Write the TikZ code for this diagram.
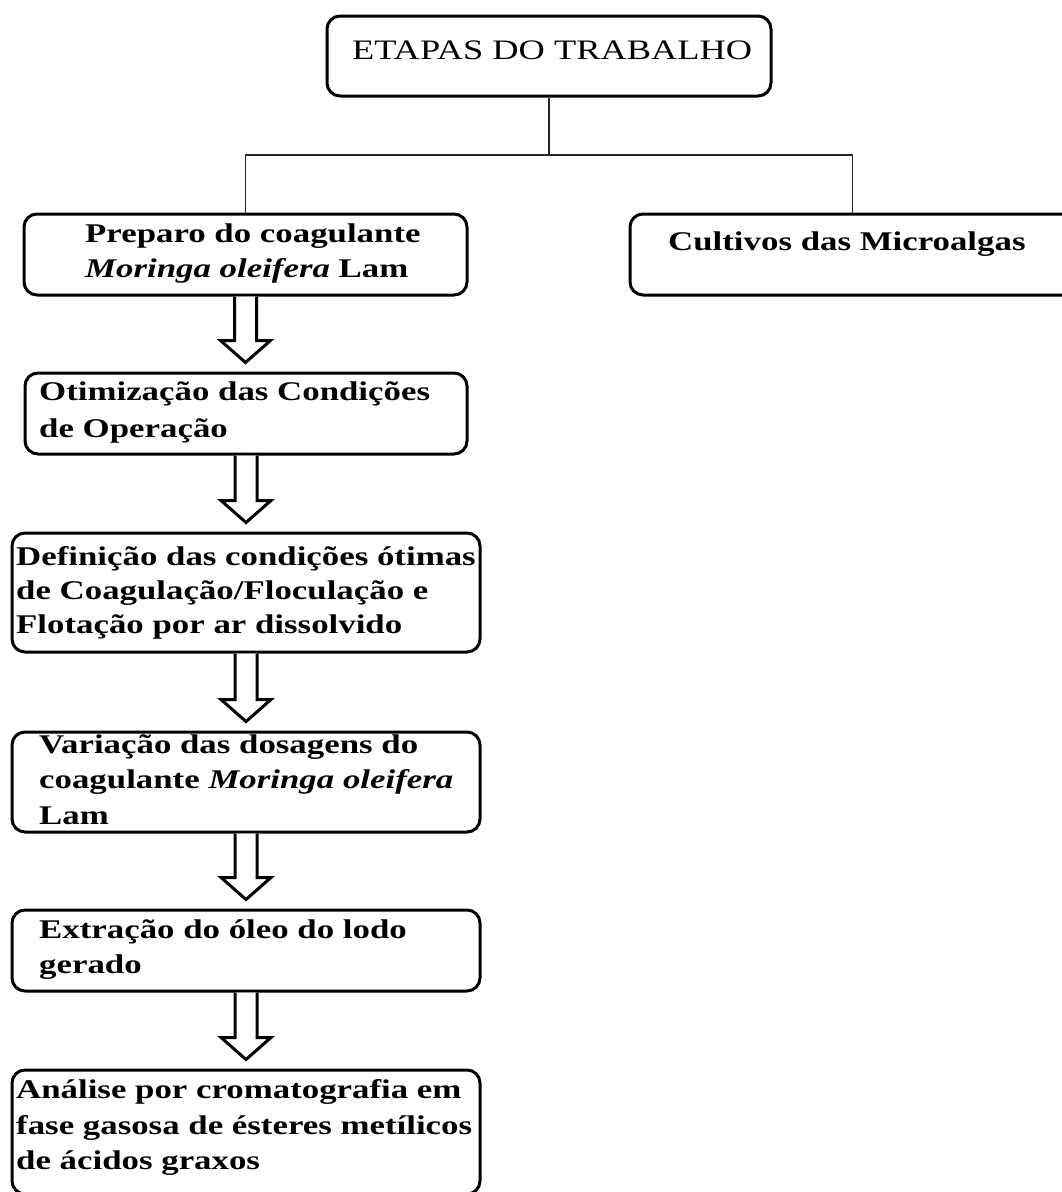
\documentclass[tikz,border=0pt]{standalone}
\usepackage{fontspec}
\setmainfont{Liberation Serif}[FakeStretch=1.29]
\usetikzlibrary{calc}
\begin{document}
\begin{tikzpicture}[x=1pt,y=-1pt,
  box/.style={draw=black,line width=3pt,rounded corners=13pt,minimum width=#1,inner sep=0pt},
  lbl/.style={anchor=base west,inner sep=0pt,font=\fontsize{27}{35.5}\selectfont\bfseries},
  ttl/.style={anchor=base west,inner sep=0pt,font=\fontsize{28.2}{35.5}\selectfont},
  tree/.style={draw=black!85,line width=1.6pt},
  barrow/.style={draw=black,line width=3pt,line join=miter,fill=white}]
\fill[white] (0,0) rectangle (1062,1192);
\useasboundingbox (0,0) rectangle (1062,1192);
\clip (0,0) rectangle (1062,1192);
% boxes
\node[box=444pt,minimum height=80pt] (T) at (549,56) {};
\node[box=443pt,minimum height=81pt] (P1) at (245.5,254.5) {};
\node[box=445pt,minimum height=81pt] (C) at (852.5,254.5) {};
\node[box=442pt,minimum height=81pt] (P2) at (246,413.5) {};
\node[box=468pt,minimum height=119pt] (P3) at (246,592.5) {};
\node[box=468pt,minimum height=100pt] (P4) at (246,782) {};
\node[box=468pt,minimum height=81pt] (P5) at (246,950.5) {};
\node[box=468pt,minimum height=124pt] (P6) at (246,1132) {};
% texts
\node[ttl] (tT) at (352,59) {ETAPAS DO TRABALHO};
\node[lbl] (t1a) at (85,242) {Preparo do coagulante};
\node[lbl] (t1b) at (85,277) {\textit{Moringa oleifera} Lam};
\node[lbl] (tC) at (668,250) {Cultivos das Microalgas};
\node[lbl] (t2a) at (39,400) {Otimização das Condições};
\node[lbl] (t2b) at (39,437) {de Operação};
\node[lbl] (t3a) at (16,565) {Definição das condições ótimas};
\node[lbl] (t3b) at (16,599) {de Coagulação/Floculação e};
\node[lbl] (t3c) at (16,633) {Flotação por ar dissolvido};
\node[lbl] (t4a) at (39,753) {Variação das dosagens do};
\node[lbl] (t4b) at (39,788) {coagulante \textit{Moringa oleifera}};
\node[lbl] (t4c) at (39,824) {Lam};
\node[lbl] (t5a) at (39,938) {Extração do óleo do lodo};
\node[lbl] (t5b) at (39,973) {gerado};
\node[lbl] (t6a) at (16,1098) {Análise por cromatografia em};
\node[lbl] (t6b) at (16,1134) {fase gasosa de ésteres metílicos};
\node[lbl] (t6c) at (16,1169) {de ácidos graxos};
% tree connectors
\coordinate (j) at (549,155);
\draw[tree] (T.south) -- (j);
\draw[tree] (P1.north) |- (j) -| (C.north);
% block arrows
\foreach \a/\b in {P1/P2,P2/P3,P3/P4,P4/P5,P5/P6}{
  \draw[barrow] ($(\a.south)+(-11,0)$) -- ($(\a.south |- \b.north)+(-11,-31)$)
    -- ($(\a.south |- \b.north)+(-25,-31)$) -- ($(\a.south |- \b.north)+(0,-9)$)
    -- ($(\a.south |- \b.north)+(25,-31)$) -- ($(\a.south |- \b.north)+(11,-31)$)
    -- ($(\a.south)+(11,0)$);
}
\end{tikzpicture}
\end{document}
